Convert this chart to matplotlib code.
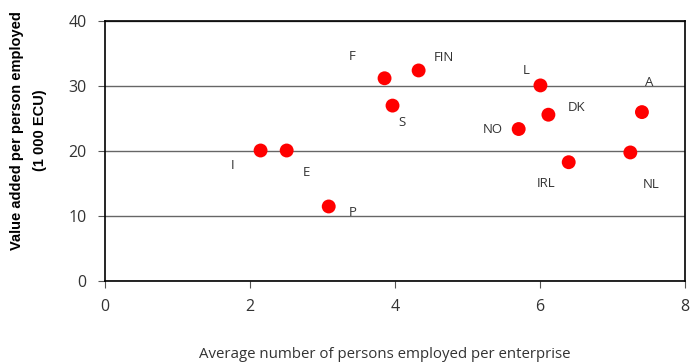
import matplotlib
matplotlib.use("Agg")
import matplotlib.pyplot as plt
from matplotlib import font_manager

countries = ["I", "E", "P", "F", "S", "FIN", "NO", "L", "DK", "IRL", "NL", "A"]
persons_per_enterprise = [2.15, 2.51, 3.09, 3.86, 3.97, 4.33, 5.71, 6.01, 6.12, 6.40, 7.25, 7.41]
value_added = [20.1, 20.1, 11.5, 31.2, 27.0, 32.4, 23.4, 30.1, 25.6, 18.3, 19.8, 26.0]
# label offsets in points (dx, dy) relative to each marker
label_offsets = [(-20, -11), (14, -16), (17, -4), (-23, 16), (7, -12), (18, 9),
                 (-19, 0), (-10, 11), (20, 5), (-16, -15), (15, -23), (5, 21)]
x_ticks = [0, 2, 4, 6, 8]
y_ticks = [0, 10, 20, 30, 40]

installed = {f.name for f in font_manager.fontManager.ttflist}
body_font = "Open Sans" if "Open Sans" in installed else "DejaVu Sans"
narrow_font = "Liberation Sans Narrow" if "Liberation Sans Narrow" in installed else "Liberation Sans"

fig = plt.figure(figsize=(6.91, 3.62), dpi=100)
ax = fig.add_axes([0.1515, 0.2229, 0.9909 - 0.1515, 0.942 - 0.2229])

ax.set_xlim(0, 8)
ax.set_ylim(0, 40)
ax.set_xticks(x_ticks)
ax.set_yticks(y_ticks)
ax.yaxis.grid(True, color="#666666", linewidth=1.0)
ax.set_axisbelow(True)
for side in ["left", "bottom", "top", "right"]:
    ax.spines[side].set_color("black")
    ax.spines[side].set_linewidth(1.2)
ax.tick_params(axis="both", direction="out", length=5, width=0.8, color="#555555",
               labelsize=11.5, labelcolor="#333333", pad=8)
for lbl in ax.get_xticklabels() + ax.get_yticklabels():
    lbl.set_fontfamily(body_font)

ax.scatter(persons_per_enterprise, value_added, s=100, color="#ff0000",
           edgecolors="none", zorder=3, clip_on=False)

for name, x, y, (dx, dy) in zip(countries, persons_per_enterprise, value_added, label_offsets):
    ax.annotate(name, (x, y), xytext=(dx, dy), textcoords="offset points",
                ha="center", va="center", fontsize=9.5, color="#333333",
                fontfamily=body_font)

ax.set_xlabel("Average number of persons employed per enterprise", fontsize=10.8,
              color="#333333", fontfamily=body_font)
ax.xaxis.set_label_coords(0.482, -0.28)
ax.xaxis.label.set_va("center")

fig.text(0.025, 0.64, "Value added per person employed", rotation=90,
         ha="center", va="center", fontsize=10.5, fontweight="bold",
         fontfamily=narrow_font, color="black")
fig.text(0.058, 0.64, "(1 000 ECU)", rotation=90,
         ha="center", va="center", fontsize=10.5, fontweight="bold",
         fontfamily=narrow_font, color="black")

fig.savefig("out.png", dpi=100)
